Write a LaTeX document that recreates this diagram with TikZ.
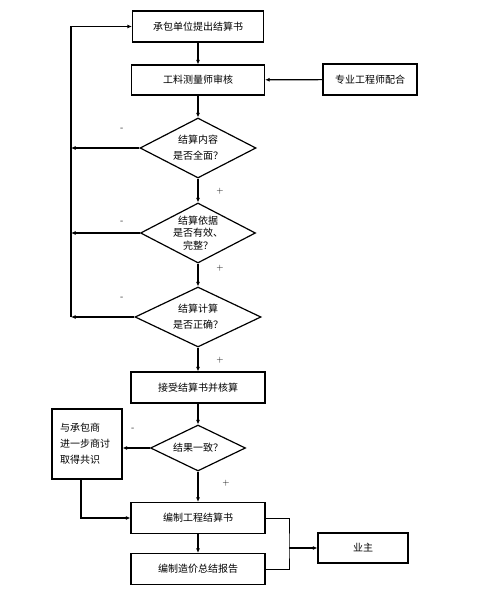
\documentclass[tikz,border=0pt]{standalone}
\usepackage{fontspec}
\newfontfamily\cjk{Noto Sans CJK SC}
\usetikzlibrary{arrows.meta,calc,positioning,shapes.geometric}
\tikzset{
  box/.style={draw,line width=1.2pt,inner sep=0pt,minimum width=134pt,minimum height=31pt,font=\cjk\fontsize{10}{16}\selectfont},
  decision/.style={draw,diamond,line width=1.2pt,inner sep=0pt,font=\cjk\fontsize{10}{16}\selectfont},
  flow/.style={line width=1.2pt,-{Latex[length=4.5pt,width=4pt]}},
  link/.style={line width=1pt},
  sign/.style={inner sep=0pt,font=\fontsize{9}{9}\selectfont}
}

\begin{document}
\begin{tikzpicture}[x=1pt,y=-1pt]
\useasboundingbox[fill=white] (0,0) rectangle (488,599);
% main column
\node[box,minimum width=131pt] (submit) at (198,26.5) {承包单位提出结算书};
\node[box,minimum width=133pt,minimum height=30pt] (review) at (198,80) {工料测量师审核};
\node[box,minimum width=94pt] (expert) at (370,79.5) {专业工程师配合};
\node[decision,minimum width=116pt,minimum height=60pt,
  label={[align=center,font=\cjk\fontsize{10}{16}\selectfont]center:结算内容\\是否全面？}] (scope) at (198,148) {};
\node[decision,minimum width=115pt,minimum height=60pt,
  label={[align=center,font=\cjk\fontsize{10}{12.5}\selectfont]center:结算依据\\是否有效、\\完整？}] (basis) at (198,233) {};
\node[decision,minimum width=126pt,minimum height=60pt,
  label={[align=center,font=\cjk\fontsize{10}{16}\selectfont]center:结算计算\\是否正确？}] (check) at (198,317) {};
\node[box] (accept) at (198,387.5) {接受结算书并核算};
\node[decision,minimum width=95pt,minimum height=46pt,
  label={[font=\cjk\fontsize{10}{16}\selectfont]center:结果一致？}] (match) at (198,448) {};
\node[box,minimum width=70pt,minimum height=70pt,text width=54pt,align=left] (talk) at (87,444) {与承包商\\进一步商讨\\取得共识};
\node[box] (compile) at (198,518) {编制工程结算书};
\node[box] (report) at (198,569) {编制造价总结报告};
\node[box,minimum width=90pt,minimum height=30pt] (owner) at (363,548) {业主};
\coordinate (loop) at (71,0);
\coordinate (join) at (289,548);
% signs
\node[sign] (n1) at (122,129) {-};
\node[sign] (n2) at (122,222) {-};
\node[sign] (n3) at (122,298) {-};
\node[sign] (n4) at (133,429) {-};
\node[sign] (p1) at (220,191) {+};
\node[sign] (p2) at (220,268) {+};
\node[sign] (p3) at (220,360) {+};
\node[sign] (p4) at (226,483) {+};
% connectors
\draw[flow] (submit) -- (review);
\draw[flow] (expert) -- (review);
\draw[flow] (review) -- (scope);
\draw[flow] (scope) -- (basis);
\draw[flow] (basis) -- (check);
\draw[flow] (check) -- (accept);
\draw[flow] (accept) -- (match);
\draw[flow] (match) -- (compile);
\draw[flow] (compile) -- (report);
\draw[flow] (scope.west) -- (scope.west -| loop);
\draw[flow] (basis.west) -- (basis.west -| loop);
\draw[flow] (check.west) -- (check.west -| loop);
\draw[flow] (check.west -| loop) |- (submit.west);
\draw[flow] (match.west) -- (match.west -| talk.east);
\draw[flow] ([xshift=-6pt]talk.south) |- (compile.west);
\draw[link] (compile.east) -| (join) |- (report.east);
\draw[flow] (join) -- (owner.west);
\end{tikzpicture}
\end{document}
